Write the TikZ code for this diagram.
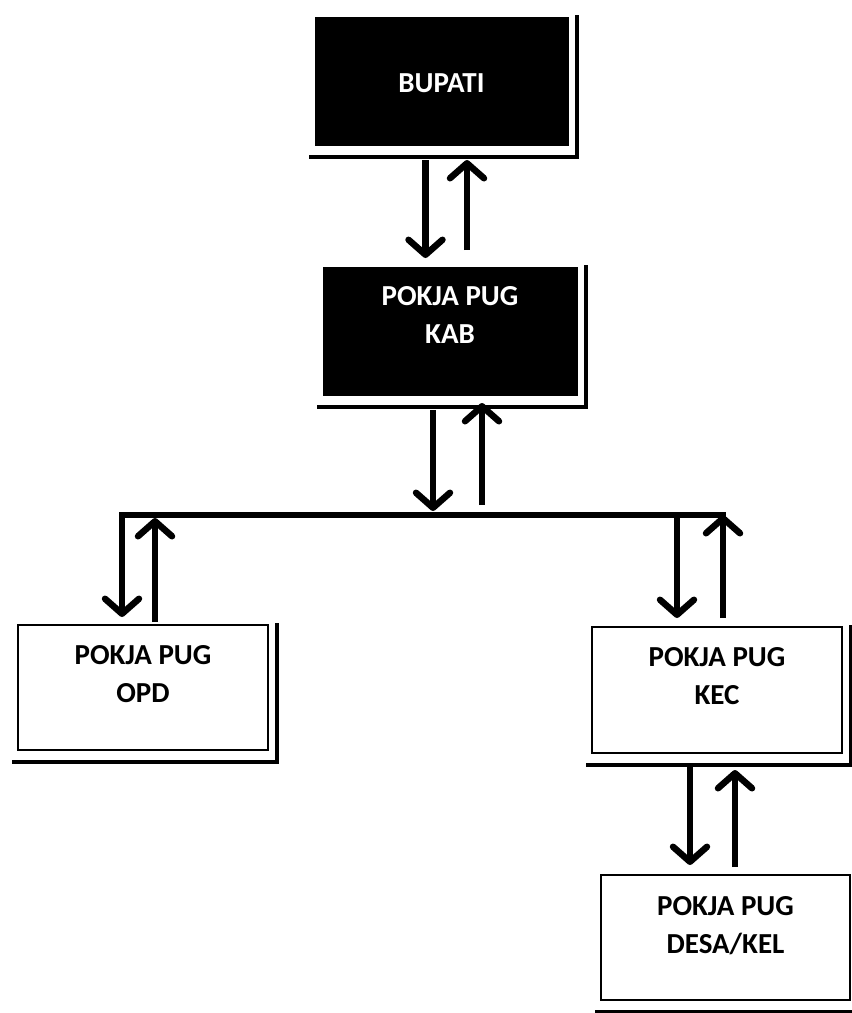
\documentclass[tikz,border=0pt]{standalone}
\usepackage{fontspec}
\setmainfont{Carlito}
\usetikzlibrary{positioning,arrows.meta}

\newcommand{\shadowlines}[1]{%
   \draw[shadowline] ([xshift=-6pt,yshift=-12pt]#1.south west) -- ([xshift=9pt,yshift=-12pt]#1.south east) -- ([xshift=9pt,yshift=2pt]#1.north east);}

\begin{document}
\begin{tikzpicture}[x=1pt,y=-1pt,
   darkbox/.style={draw=black,fill=black,shape=rectangle,inner sep=0pt,outer sep=0pt,minimum width=254pt,minimum height=128pt},
   whitebox/.style={draw=black,line width=2.5pt,shape=rectangle,inner sep=0pt,outer sep=0pt,minimum width=250pt,minimum height=125pt},
   label text/.style={inner sep=0pt,outer sep=0pt,align=center,font=\fontsize{29}{38}\selectfont\bfseries},
   shadowline/.style={line width=4.5pt},
   bus/.style={line width=6pt,line cap=rect},
   flow/.style={line width=6.5pt,-{Straight Barb[length=15pt,width=34pt,round]}}]
   \useasboundingbox (0,0) rectangle (852,1013);
   % boxes
   \path (441.5,81) node[darkbox,minimum width=253pt] (BUP) {};
   \path (450,331) node[darkbox] (KAB) {};
   \path (143,687.5) node[whitebox] (OPD) {};
   \path (717,690) node[whitebox,minimum height=126pt] (KEC) {};
   \path (725.5,937.5) node[whitebox,minimum width=249pt] (DESA) {};
   \shadowlines{BUP}
   \shadowlines{KAB}
   \shadowlines{OPD}
   \shadowlines{KEC}
   \shadowlines{DESA}
   % texts
   \path ([yshift=-2pt]BUP.center) node[label text,text=white] (BUPt) {BUPATI};
   \node[label text,text=white,below=19pt of KAB.north] (KABt) {POKJA PUG\\KAB};
   \node[label text,below=20pt of OPD.north] (OPDt) {POKJA PUG\\OPD};
   \node[label text,below=20pt of KEC.north] (KECt) {POKJA PUG\\KEC};
   \node[label text,below=21pt of DESA.north] (DESAt) {POKJA PUG\\DESA/KEL};
   % bus
   \coordinate (busL) at (122,515);
   \coordinate (busR) at (723,515);
   \draw[bus] (busL) -- (busR);
   % arrows
   \draw[flow,shorten <=15pt,shorten >=9pt] ([xshift=-16pt]BUP.south) -- ([xshift=-16pt]BUP.south |- KAB.north);
   \draw[flow,shorten <=17pt,shorten >=15pt] ([xshift=17pt]KAB.north) -- ([xshift=17pt]KAB.north |- BUP.south);
   \draw[flow,shorten <=15pt,shorten >=4pt] ([xshift=-17pt]KAB.south) -- ([xshift=-17pt]KAB.south |- busL);
   \draw[flow,shorten <=10pt,shorten >=8pt] ([xshift=32pt]KAB.south |- busL) -- ([xshift=32pt]KAB.south);
   \draw[flow,shorten >=8pt] (busL) -- (busL |- OPD.north);
   \draw[flow,shorten <=3pt,shorten >=3pt] ([xshift=12pt]OPD.north) -- ([xshift=12pt]OPD.north |- busL);
   \draw[flow,shorten >=9pt] ([xshift=-40pt]KEC.north |- busL) -- ([xshift=-40pt]KEC.north);
   \draw[flow,shorten <=9pt] (busR |- KEC.north) -- (busR);
   \draw[flow,shorten <=12pt,shorten >=10pt] ([xshift=-27pt]KEC.south) -- ([xshift=-27pt]KEC.south |- DESA.north);
   \draw[flow,shorten <=8pt,shorten >=17pt] ([xshift=18pt]KEC.south |- DESA.north) -- ([xshift=18pt]KEC.south);
\end{tikzpicture}
\end{document}
